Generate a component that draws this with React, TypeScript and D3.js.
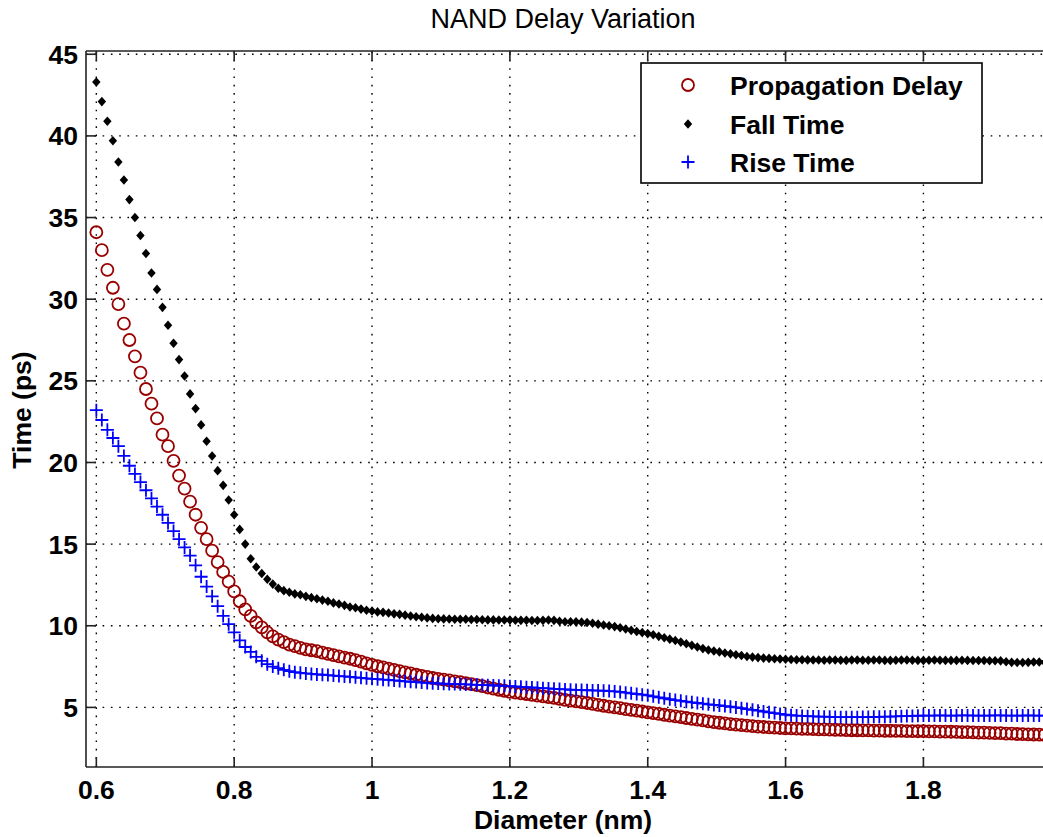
import React from "react";
import * as d3 from "d3";

const X_START = 0.6;
const X_STEP = 0.008;

const propagationDelay = [
  34.1, 33.0, 31.8, 30.7, 29.7, 28.5, 27.5, 26.5, 25.5, 24.5,
  23.6, 22.7, 21.7, 21.0, 20.1, 19.2, 18.4, 17.6, 16.8, 16.0,
  15.3, 14.6, 13.9, 13.3, 12.7, 12.1, 11.5, 11.0, 10.6, 10.2,
  9.9, 9.6, 9.35, 9.15, 9.0, 8.85, 8.75, 8.65, 8.55, 8.5,
  8.45, 8.35, 8.28, 8.2, 8.12, 8.05, 7.98, 7.9, 7.8, 7.7,
  7.6, 7.52, 7.45, 7.38, 7.3, 7.22, 7.15, 7.08, 7.0, 6.93,
  6.87, 6.8, 6.75, 6.7, 6.65, 6.6, 6.55, 6.48, 6.42, 6.36,
  6.3, 6.22, 6.15, 6.08, 6.02, 5.95, 5.9, 5.86, 5.82, 5.77,
  5.72, 5.68, 5.63, 5.58, 5.52, 5.46, 5.42, 5.37, 5.32, 5.27,
  5.21, 5.16, 5.1, 5.05, 5.0, 4.95, 4.9, 4.85, 4.8, 4.75,
  4.7, 4.65, 4.6, 4.55, 4.5, 4.45, 4.4, 4.35, 4.3, 4.25,
  4.2, 4.15, 4.1, 4.06, 4.02, 3.98, 3.95, 3.92, 3.88, 3.85,
  3.82, 3.8, 3.78, 3.76, 3.74, 3.72,
  3.71, 3.7, 3.69, 3.68, 3.67, 3.66, 3.65, 3.64, 3.63, 3.62, 3.61, 3.6,
  3.6, 3.59, 3.59, 3.58, 3.58, 3.57, 3.57, 3.56, 3.56, 3.55, 3.55, 3.54, 3.54,
  3.53, 3.53, 3.52, 3.52, 3.51, 3.5, 3.49, 3.48, 3.47, 3.46, 3.45, 3.44,
  3.43, 3.42, 3.4, 3.39, 3.37, 3.36, 3.35, 3.34, 3.33, 3.32,
];

const fallTime = [
  43.3, 42.1, 40.9, 39.7, 38.4, 37.3, 36.1, 35.0, 33.9, 32.8,
  31.6, 30.6, 29.5, 28.4, 27.3, 26.3, 25.3, 24.2, 23.3, 22.3,
  21.3, 20.4, 19.5, 18.6, 17.7, 16.8, 15.9, 15.0, 14.1, 13.6,
  13.2, 12.85, 12.55, 12.3, 12.15, 12.05, 11.95, 11.9, 11.8, 11.72,
  11.65, 11.57, 11.5, 11.4, 11.33, 11.25, 11.15, 11.1, 11.02, 10.95,
  10.9, 10.85, 10.82, 10.78, 10.73, 10.7, 10.65, 10.6, 10.55, 10.52,
  10.48, 10.45, 10.43, 10.42, 10.41, 10.4, 10.4, 10.4, 10.38, 10.38,
  10.37, 10.36, 10.36, 10.35, 10.35, 10.35, 10.34, 10.33, 10.33, 10.32,
  10.32, 10.33, 10.35, 10.33, 10.28, 10.25, 10.25, 10.24, 10.22, 10.2,
  10.15, 10.1, 10.05, 10.0, 9.95, 9.88, 9.8, 9.72, 9.65, 9.58,
  9.52, 9.45, 9.35, 9.27, 9.18, 9.1, 9.0, 8.9, 8.8, 8.7,
  8.6, 8.52, 8.45, 8.4, 8.33, 8.28, 8.22, 8.18, 8.12, 8.08,
  8.05, 8.02, 8.0, 7.98, 7.96, 7.95, 7.93, 7.92, 7.92, 7.91,
  7.9,
  7.9, 7.89, 7.9, 7.9, 7.89, 7.88, 7.9, 7.9, 7.89, 7.89,
  7.9, 7.9, 7.88, 7.88, 7.89, 7.9, 7.9, 7.89, 7.88, 7.88,
  7.89, 7.9, 7.89, 7.88, 7.88, 7.88, 7.89, 7.88, 7.87, 7.87,
  7.87, 7.86, 7.86, 7.85, 7.8, 7.76, 7.75, 7.75, 7.76, 7.78, 7.78, 7.77,
];

const riseTime = [
  23.2, 22.6, 22.0, 21.5, 21.0, 20.4, 19.8, 19.3, 18.8, 18.3,
  17.8, 17.3, 16.8, 16.3, 15.8, 15.3, 14.8, 14.3, 13.7, 13.0,
  12.4, 11.8, 11.2, 10.6, 10.1, 9.6, 9.1, 8.7, 8.4, 8.1,
  7.85, 7.65, 7.5, 7.4, 7.3, 7.22, 7.16, 7.12, 7.08, 7.05,
  7.02, 7.0, 6.98, 6.95,
  6.92, 6.9, 6.87, 6.84, 6.81, 6.78, 6.75,
  6.73, 6.7, 6.68, 6.65, 6.62, 6.6, 6.57, 6.55, 6.52, 6.5,
  6.48, 6.47, 6.45, 6.44, 6.43, 6.42, 6.41, 6.4, 6.38, 6.37, 6.36, 6.34, 6.33, 6.32, 6.3,
  6.28, 6.26, 6.24, 6.22, 6.2, 6.18, 6.16,
  6.14, 6.12, 6.1, 6.08, 6.07, 6.06, 6.05, 6.04, 6.03, 6.02, 6.0, 5.98, 5.95,
  5.9, 5.86, 5.82, 5.78, 5.74,
  5.68, 5.62, 5.56, 5.5, 5.45, 5.4, 5.35,
  5.31, 5.27, 5.23, 5.19, 5.15, 5.12,
  5.08, 5.04, 5.0, 4.95, 4.9, 4.85,
  4.8, 4.75, 4.7, 4.65, 4.6, 4.55,
  4.52, 4.5, 4.48, 4.46, 4.45, 4.44, 4.43, 4.42, 4.41, 4.4, 4.4, 4.4,
  4.4, 4.41, 4.41, 4.42, 4.42, 4.43, 4.44, 4.45, 4.46, 4.47, 4.48, 4.49, 4.5,
  4.5, 4.5, 4.51, 4.5, 4.5, 4.5, 4.51, 4.51, 4.5, 4.5, 4.5,
  4.5, 4.51, 4.51, 4.5, 4.5, 4.5, 4.5, 4.51, 4.5, 4.5, 4.5,
];

const xTicks = [0.6, 0.8, 1, 1.2, 1.4, 1.6, 1.8];
const yTicks = [5, 10, 15, 20, 25, 30, 35, 40, 45];
const legendLabels = ["Propagation Delay", "Fall Time", "Rise Time"];

const W = 1043;
const H = 837;
const L = 86;
const R = 1043;
const T = 51;
const B = 767;
const CX = 563;
const FONT = "'Liberation Sans', Arial, Helvetica, sans-serif";
const RED = "#990000";
const BLUE = "#0000ff";

const diameters = propagationDelay.map((_, i) => X_START + X_STEP * i);

const x = d3.scaleLinear().domain([0.585, 1.9735]).range([L, R]);
const y = d3.scaleLinear().domain([1.35, 45.2]).range([B, T]);

function Circle({ cx, cy }: { cx: number; cy: number }) {
  return <circle cx={cx} cy={cy} r={6} fill="none" stroke={RED} strokeWidth={1.8} />;
}
function Diamond({ cx, cy }: { cx: number; cy: number }) {
  const w = 4.2;
  const h = 4.8;
  return (
    <path
      d={`M${cx},${cy - h}L${cx + w},${cy}L${cx},${cy + h}L${cx - w},${cy}Z`}
      fill="#000"
    />
  );
}
function Cross({ cx, cy }: { cx: number; cy: number }) {
  const s = 6.5;
  return (
    <path
      d={`M${cx - s},${cy}H${cx + s}M${cx},${cy - s}V${cy + s}`}
      stroke={BLUE}
      strokeWidth={1.8}
      fill="none"
    />
  );
}

export default function App() {
  const fs = 26.5;
  return (
    <svg
      width={W}
      height={H}
      style={{ position: "absolute", left: 0, top: 0, background: "#fff" }}
      fontFamily={FONT}
    >
      <rect x={0} y={0} width={W} height={H} fill="#fff" />
      <defs>
        <clipPath id="plotClip">
          <rect x={L} y={T} width={R - L} height={B - T} />
        </clipPath>
      </defs>
      <g stroke="#000" strokeWidth={1.4} strokeDasharray="1.6 6.7" fill="none">
        {xTicks.map((t) => (
          <line key={"gx" + t} x1={x(t)} x2={x(t)} y1={B} y2={T} />
        ))}
        {yTicks.map((t) => (
          <line key={"gy" + t} x1={L} x2={R} y1={y(t)} y2={y(t)} />
        ))}
      </g>
      <g stroke="#222" strokeWidth={1.6} fill="none">
        <line x1={L} x2={R} y1={B} y2={B} />
        <line x1={L} x2={R} y1={T} y2={T} />
        <line x1={L} x2={L} y1={T} y2={B} />
        {xTicks.map((t) => (
          <g key={"tx" + t}>
            <line x1={x(t)} x2={x(t)} y1={B} y2={B - 10} />
            <line x1={x(t)} x2={x(t)} y1={T} y2={T + 10} />
          </g>
        ))}
        {yTicks.map((t) => (
          <line key={"ty" + t} x1={L} x2={L + 10} y1={y(t)} y2={y(t)} />
        ))}
      </g>
      <g fontSize={fs} fontWeight="bold" fill="#000">
        {xTicks.map((t) => (
          <text key={"lx" + t} x={x(t)} y={B + 32} textAnchor="middle">
            {String(t)}
          </text>
        ))}
        {yTicks.map((t) => (
          <text key={"ly" + t} x={L - 8} y={y(t) + 9.5} textAnchor="end">
            {String(t)}
          </text>
        ))}
      </g>
      <g clipPath="url(#plotClip)">
        {propagationDelay.map((v, i) => (
          <Circle key={"p" + i} cx={x(diameters[i])} cy={y(v)} />
        ))}
        {fallTime.map((v, i) => (
          <Diamond key={"f" + i} cx={x(diameters[i])} cy={y(v)} />
        ))}
        {riseTime.map((v, i) => (
          <Cross key={"r" + i} cx={x(diameters[i])} cy={y(v)} />
        ))}
      </g>
      <g>
        <rect x={641} y={63} width={341} height={120} fill="#fff" stroke="#000" strokeWidth={1.6} />
        <Circle cx={688} cy={85} />
        <Diamond cx={688} cy={124} />
        <Cross cx={688} cy={162} />
        {legendLabels.map((lab, i) => (
          <text
            key={lab}
            x={730}
            y={[85, 124, 162][i] + 9.5}
            fontSize={fs}
            fontWeight="bold"
            fill="#000"
          >
            {lab}
          </text>
        ))}
      </g>
      <text x={CX} y={28} textAnchor="middle" fontSize={27} fill="#000">
        NAND Delay Variation
      </text>
      <text x={CX} y={829} textAnchor="middle" fontSize={fs} fontWeight="bold" fill="#000">
        Diameter (nm)
      </text>
      <text
        transform={`translate(31,410) rotate(-90)`}
        textAnchor="middle"
        fontSize={fs}
        fontWeight="bold"
        fill="#000"
      >
        Time (ps)
      </text>
    </svg>
  );
}
